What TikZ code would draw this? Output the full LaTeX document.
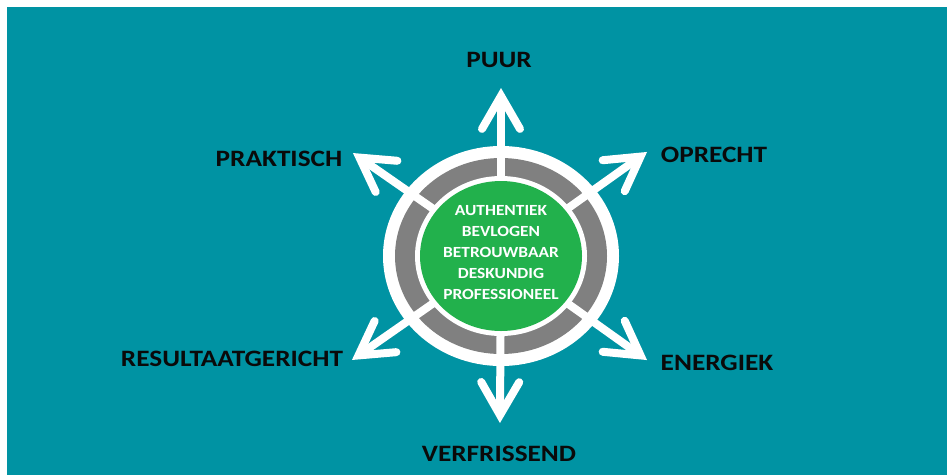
\documentclass[tikz,border=0pt]{standalone}
\usepackage{fontspec}
\setmainfont{Carlito}
\usetikzlibrary{shapes.geometric,calc}
\definecolor{teal1}{RGB}{0,147,163}
\definecolor{ringgrey}{RGB}{128,128,128}
\definecolor{coregreen}{RGB}{34,177,76}
\definecolor{labelink}{RGB}{10,10,10}
\begin{document}
\begin{tikzpicture}[x=1pt,y=-1pt,
  shaft/.style={white, line width=8pt},
  headline/.style={white, line width=8pt, line join=miter, line cap=round},
  label/.style={inner sep=0pt, anchor=center, text=labelink, xscale=1.16, transform shape,
    font=\fontsize{23.5}{23.5}\selectfont\bfseries},
  corenode/.style={ellipse, fill=coregreen, minimum width=162pt, minimum height=150pt, inner sep=0pt},
  coretextstyle/.style={inner sep=0pt, text=white, align=center, xscale=1.12, transform shape,
    font=\fontsize{15.5}{21}\selectfont\bfseries}]
\useasboundingbox (0,0) rectangle (947,475);
\fill[white] (0,0) rectangle (947,475);
\fill[teal1] (7,7) rectangle (947,475);
\coordinate (c) at (501,256);
\coordinate (tU) at (501,96);
\coordinate (tD) at (500,415);
\coordinate (tUR) at (640.5,156.6);
\coordinate (tDR) at (640.5,355.4);
\coordinate (tUL) at (359.5,157.6);
\coordinate (tDL) at (358.5,355.4);
% rings
\fill[white] (c) ellipse [x radius=118pt, y radius=110pt];
\fill[ringgrey] (c) ellipse [x radius=106pt, y radius=98pt];
\fill[white] (c) ellipse [x radius=86pt, y radius=80pt];
% shafts
\foreach \t in {tU,tD,tUR,tDR,tUL,tDL} {
  \draw[shaft] (c) -- (\t);
}
\node[corenode] (core) at (c) {};
\node[coretextstyle] (coretext) at (501,253) {AUTHENTIEK\\BEVLOGEN\\BETROUWBAAR\\DESKUNDIG\\PROFESSIONEEL};
% heads
\foreach \t in {tU,tD,tUR,tDR,tUL,tDL} {
  \draw[headline] ($(\t)!38pt!30:(c)$) -- (\t) -- ($(\t)!38pt!-30:(c)$);
}
% labels
\node[label] (puur) at (499,60) {PUUR};
\node[label] (oprecht) at (714,155) {OPRECHT};
\node[label] (praktisch) at (279,159) {PRAKTISCH};
\node[label] (result) at (232,359) {RESULTAATGERICHT};
\node[label] (energiek) at (717,363) {ENERGIEK};
\node[label] (verfris) at (499,454) {VERFRISSEND};
\end{tikzpicture}
\end{document}
